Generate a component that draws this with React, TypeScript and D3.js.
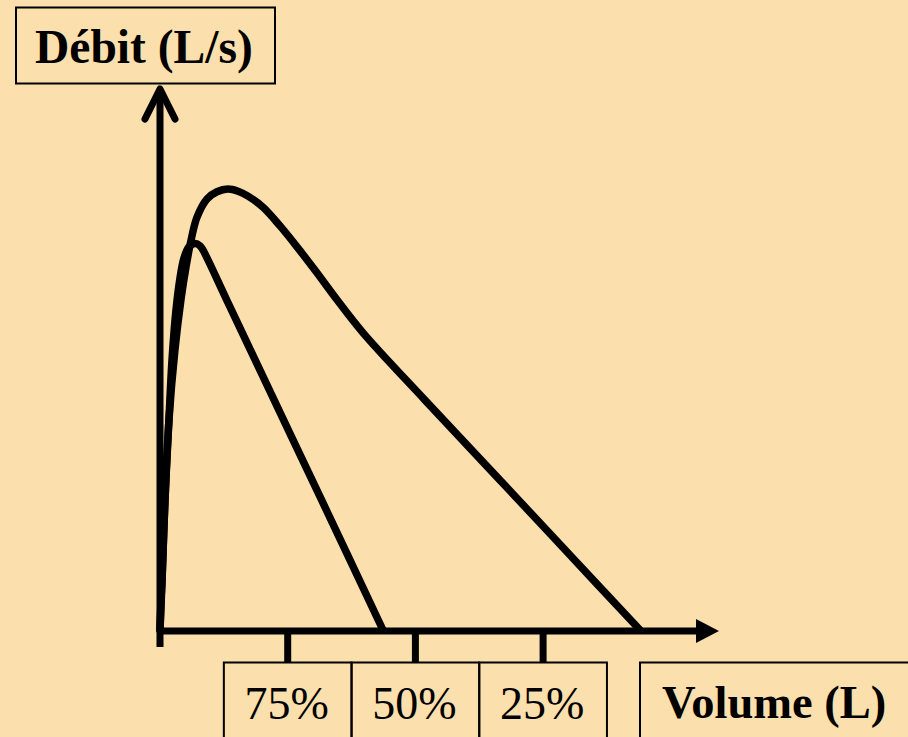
import React from "react";
import * as d3 from "d3";

// Volume expired (L) and flow (L/s)
const largeVolume = [0, 0.016, 0.039, 0.07, 0.117, 0.164, 0.204, 0.243, 0.29, 0.368, 0.446, 0.532, 0.611, 0.689, 0.807, 0.94, 1.073, 1.229, 1.386, 1.59, 2.075, 2.662, 3.21, 3.759];
const largeFlow = [0, 0.907, 2.36, 3.81, 5.08, 5.99, 6.59, 7.07, 7.49, 7.82, 7.95, 8.0, 7.96, 7.87, 7.67, 7.33, 6.95, 6.48, 5.99, 5.39, 4.17, 2.72, 1.36, 0];

const smallVolume = [0, 0.008, 0.016, 0.039, 0.07, 0.094, 0.125, 0.157, 0.188, 0.227, 0.274, 0.313, 0.337, 0.522, 0.894, 1.265, 1.746];
const smallFlow = [0, 0.544, 0.907, 2.36, 3.81, 4.9, 5.8, 6.39, 6.75, 6.95, 7.01, 6.97, 6.89, 5.99, 4.17, 2.36, 0];

const tickValues = [1, 2, 3];
const tickLabels = ["75%", "50%", "25%"];
const yTitle = "Débit (L/s)";
const xTitle = "Volume (L)";

const W = 908;
const H = 737;
const BG = "#FBDFAC";
const FONT = "'Liberation Serif', 'Times New Roman', Times, serif";

export default function App() {
  const x = d3.scaleLinear().domain([0, 4]).range([160, 670.8]);
  const y = d3.scaleLinear().domain([0, 8]).range([630, 189]);

  const line = d3
    .line<[number, number]>()
    .x((d) => x(d[0]))
    .y((d) => y(d[1]))
    .curve(d3.curveCatmullRom.alpha(0.5));

  const large: [number, number][] = largeVolume.map((v, i) => [v, largeFlow[i]]);
  const small: [number, number][] = smallVolume.map((v, i) => [v, smallFlow[i]]);

  const x0 = x(0);
  const y0 = y(0);
  const unit = x(1) - x(0);
  const boxTop = 662.5;

  return (
    <div style={{ position: "absolute", left: 0, top: 0, width: W, height: H, background: BG }}>
      <svg width={W} height={H} style={{ display: "block" }}>
        <rect x={0} y={0} width={W} height={H} fill={BG} />

        {/* Y title box */}
        <rect x={16} y={7.5} width={259} height={76} fill="none" stroke="#000" strokeWidth={2} />
        <text x={35} y={63} fontFamily={FONT} fontWeight="bold" fontSize={47.5} fill="#000">
          {yTitle}
        </text>

        {/* Y axis with open arrow head */}
        <line x1={x0} y1={647} x2={x0} y2={90} stroke="#000" strokeWidth={7} />
        <polyline
          points={`${x0 - 15},119 ${x0},89 ${x0 + 15},119`}
          fill="none"
          stroke="#000"
          strokeWidth={7}
          strokeLinecap="round"
          strokeLinejoin="round"
        />

        {/* X axis with filled arrow head */}
        <line x1={x0 - 3} y1={y0 + 1} x2={700} y2={y0 + 1} stroke="#000" strokeWidth={7} />
        <polygon points={`696,${y0 - 11} 719,${y0 + 1} 696,${y0 + 13}`} fill="#000" />

        {/* ticks + label boxes */}
        {tickValues.map((t, i) => (
          <g key={t}>
            <line x1={x(t)} y1={y0} x2={x(t)} y2={boxTop} stroke="#000" strokeWidth={7} />
            <rect
              x={x(t) - unit / 2}
              y={boxTop}
              width={unit}
              height={H - boxTop + 20}
              fill="none"
              stroke="#000"
              strokeWidth={2}
            />
            <text
              x={x(t) - 1}
              y={719}
              textAnchor="middle"
              fontFamily={FONT}
              fontSize={46}
              fill="#000"
            >
              {tickLabels[i]}
            </text>
          </g>
        ))}

        {/* X title box */}
        <rect x={640} y={boxTop} width={300} height={H - boxTop + 20} fill="none" stroke="#000" strokeWidth={2} />
        <text x={662} y={718} fontFamily={FONT} fontWeight="bold" fontSize={46.5} fill="#000">
          {xTitle}
        </text>

        {/* flow-volume curves */}
        <path d={line(large) || ""} fill="none" stroke="#000" strokeWidth={7.5} strokeLinejoin="round" strokeLinecap="round" />
        <path d={line(small) || ""} fill="none" stroke="#000" strokeWidth={7.5} strokeLinejoin="round" strokeLinecap="round" />
      </svg>
    </div>
  );
}
